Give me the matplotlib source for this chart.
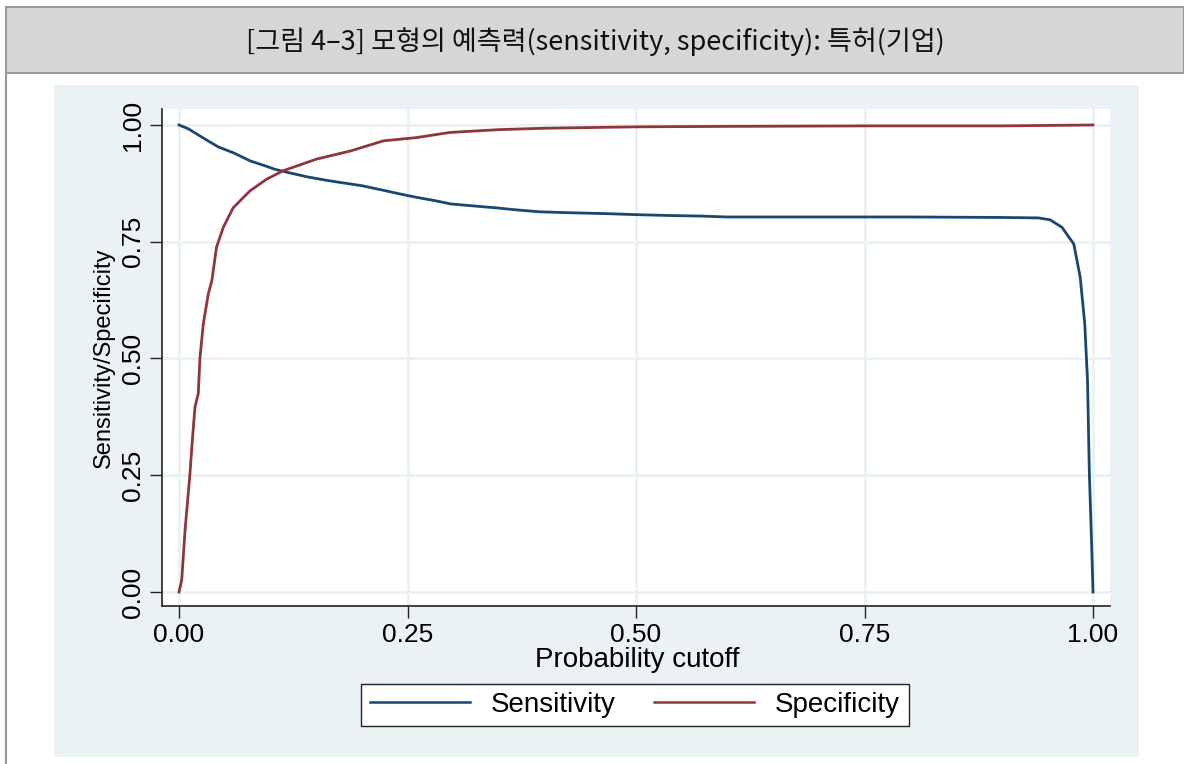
#!/usr/bin/env python3
import matplotlib
matplotlib.use("Agg")
import matplotlib.pyplot as plt
from matplotlib.patches import Rectangle
from matplotlib.lines import Line2D

title = "[그림 4–3] 모형의 예측력(sensitivity, specificity): 특허(기업)"

sens_x = [0.000, 0.010, 0.020, 0.030, 0.043, 0.060, 0.078, 0.095, 0.105, 0.120,
          0.140, 0.160, 0.176, 0.200, 0.224, 0.240, 0.260, 0.280, 0.297, 0.320,
          0.350, 0.370, 0.395, 0.430, 0.470, 0.500, 0.540, 0.570, 0.600, 0.700,
          0.800, 0.900, 0.940, 0.953, 0.966, 0.979, 0.986, 0.991, 0.994, 0.996,
          0.9986, 1.000]
sens_y = [1.000, 0.992, 0.980, 0.968, 0.953, 0.940, 0.923, 0.912, 0.905, 0.898,
          0.889, 0.882, 0.877, 0.870, 0.860, 0.853, 0.845, 0.838, 0.831, 0.827,
          0.822, 0.818, 0.814, 0.812, 0.810, 0.808, 0.806, 0.805, 0.803, 0.803,
          0.803, 0.802, 0.801, 0.797, 0.781, 0.745, 0.674, 0.574, 0.453, 0.254,
          0.097, 0.000]

spec_x = [0.000, 0.003, 0.0066, 0.012, 0.0146, 0.0175, 0.0211, 0.023, 0.0266,
          0.032, 0.036, 0.041, 0.0485, 0.0594, 0.0777, 0.096, 0.114, 0.1506,
          0.187, 0.2236, 0.260, 0.2965, 0.350, 0.400, 0.500, 0.600, 0.750,
          0.900, 1.000]
spec_y = [0.000, 0.026, 0.132, 0.254, 0.325, 0.396, 0.425, 0.503, 0.574,
          0.638, 0.667, 0.738, 0.781, 0.823, 0.859, 0.884, 0.902, 0.927,
          0.944, 0.966, 0.973, 0.984, 0.990, 0.993, 0.996, 0.997, 0.998,
          0.998, 1.000]

ticks = [0.0, 0.25, 0.5, 0.75, 1.0]
tick_labels = ["0.00", "0.25", "0.50", "0.75", "1.00"]

W, H = 1184, 764
navy = "#1a476f"
maroon = "#90353b"
bluegray = "#eaf2f3"

fig = plt.figure(figsize=(W / 100, H / 100), dpi=100)
fig.patch.set_facecolor("white")

# title bar and outer frame
fig.add_artist(Rectangle((6 / W, 1 - 73 / H), (W - 6) / W, 66 / H,
                         transform=fig.transFigure, facecolor="#d6d6d6",
                         edgecolor="#9a9a9a", linewidth=1.5, zorder=-10))
fig.add_artist(Line2D([6 / W, 6 / W], [0, 1 - 73 / H], transform=fig.transFigure,
                      color="#9a9a9a", linewidth=1.5, zorder=-10))
fig.text(595 / W, 1 - 42 / H, title, ha="center", va="center", fontsize=19.5,
         family=["Noto Sans CJK KR", "DejaVu Sans"], color="#111111")

# stata graph region
fig.add_artist(Rectangle((54 / W, 1 - 757 / H), (1139 - 54) / W, (757 - 85) / H,
                         transform=fig.transFigure, facecolor=bluegray,
                         edgecolor="none", zorder=-10))

ax = fig.add_axes([162 / W, 1 - 606 / H, (1110 - 162) / W, (606 - 109) / H])
ax.set_facecolor("white")
ax.set_xlim(-17 / 914, 931 / 914)
ax.set_ylim(-14 / 468, 484 / 468)

for t in ticks:
    ax.axhline(t, color=bluegray, linewidth=2, zorder=1)
    ax.axvline(t, color=bluegray, linewidth=2, zorder=1)

ax.plot(sens_x, sens_y, color=navy, linewidth=2, label="Sensitivity", zorder=3)
ax.plot(spec_x, spec_y, color=maroon, linewidth=2, label="Specificity", zorder=3)

for s in ["top", "right"]:
    ax.spines[s].set_visible(False)
for s in ["left", "bottom"]:
    ax.spines[s].set_color("#222222")
    ax.spines[s].set_linewidth(1.2)

font = "Liberation Sans"
ax.set_xticks(ticks)
ax.set_xticklabels(tick_labels, fontsize=19, family=font)
ax.set_yticks(ticks)
ax.set_yticklabels(tick_labels, fontsize=19, family=font, rotation=90, va="center")
ax.tick_params(axis="both", length=8.5, width=1, color="#222222", pad=4)

ax.set_xlabel("Probability cutoff", fontsize=20, family=font, va="center")
ax.xaxis.set_label_coords(0.501, -0.109)
ax.set_ylabel("Sensitivity/Specificity", fontsize=17, family=font, labelpad=4)

leg = ax.legend(loc="center", bbox_to_anchor=(635 / W, 1 - 705 / H),
                bbox_transform=fig.transFigure, ncol=2, frameon=True,
                fancybox=False, prop={"family": font, "size": 20},
                handlelength=3.6, handletextpad=0.75, columnspacing=1.4,
                borderpad=0.3)
leg.get_frame().set_edgecolor("#222222")
leg.get_frame().set_linewidth(1)
leg.get_frame().set_alpha(1)
for line in leg.get_lines():
    line.set_linewidth(1.8)

fig.savefig("out.png", dpi=100, facecolor=fig.get_facecolor())
